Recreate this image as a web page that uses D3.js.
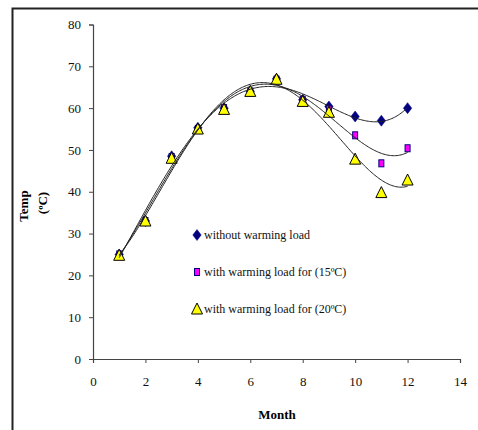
<!DOCTYPE html>
<html>
<head>
<meta charset="utf-8">
<script src="https://cdn.jsdelivr.net/npm/d3@7"></script>
<style>
  html, body { margin: 0; padding: 0; background: #fff; }
  svg { display: block; }
</style>
</head>
<body>
<svg id="chart" width="478" height="430"></svg>
<script>
// Monthly temperature readings (°C)
const months = [1, 2, 3, 4, 5, 6, 7, 8, 9, 10, 11, 12];
const withoutLoad = [25, 33, 48.5, 55.3, 60, 64, 67, 62, 60.4, 58, 57, 60];
const load15 = [25, 33, 48.3, 55, 60, 64, 66.8, 62, 59.8, 53.5, 46.8, 50.4];
const load20 = [24.8, 33, 48, 55, 59.7, 64, 66.9, 61.6, 59, 47.8, 39.8, 42.8];

const xTicks = [0, 2, 4, 6, 8, 10, 12, 14];
const yTicks = [0, 10, 20, 30, 40, 50, 60, 70, 80];

const seriesNames = [
  "without warming load",
  "with warming load for (15ºC)",
  "with warming load for (20ºC)"
];

const FONT = "Liberation Serif";
const svg = d3.select("#chart");

// outer frame
svg.append("rect")
  .attr("x", 12.5).attr("y", 8.5)
  .attr("width", 600).attr("height", 600)
  .attr("fill", "none").attr("stroke", "#222").attr("stroke-width", 2);

const x = d3.scaleLinear().domain([0, 14]).range([93, 460]);
const y = d3.scaleLinear().domain([0, 80]).range([359, 24.5]);

// axes
const xAxis = svg.append("g")
  .attr("transform", `translate(0,${y(0)})`)
  .call(d3.axisBottom(x).tickValues(xTicks).tickSize(4).tickPadding(14).tickFormat(d3.format("d")));
const yAxis = svg.append("g")
  .attr("transform", `translate(${x(0)},0)`)
  .call(d3.axisLeft(y).tickValues(yTicks).tickSize(4).tickPadding(8).tickFormat(d3.format("d")));

[xAxis, yAxis].forEach(g => {
  g.attr("font-family", null);
  g.select(".domain").attr("stroke", "#444").attr("stroke-width", 1.2);
  g.selectAll(".tick line").attr("stroke", "#444");
  g.selectAll(".tick text")
    .attr("fill", "#111")
    .style("font-family", FONT)
    .style("font-size", "13px");
});

// axis titles
svg.append("text")
  .attr("x", 277).attr("y", 419)
  .attr("text-anchor", "middle")
  .style("font-family", FONT).style("font-weight", "bold").style("font-size", "13px")
  .text("Month");

svg.append("text")
  .attr("transform", "translate(28,206) rotate(-90)")
  .attr("text-anchor", "middle")
  .style("font-family", FONT).style("font-weight", "bold").style("font-size", "13px")
  .text("Temp");
svg.append("text")
  .attr("transform", "translate(47,203) rotate(-90)")
  .attr("text-anchor", "middle")
  .style("font-family", FONT).style("font-weight", "bold").style("font-size", "13px")
  .text("(ºC)");

// least-squares polynomial trendline
function polyFit(xs, ys, order) {
  const n = order + 1;
  const A = Array.from({ length: n }, () => new Array(n + 1).fill(0));
  for (let r = 0; r < n; r++) {
    for (let c = 0; c < n; c++) {
      A[r][c] = d3.sum(xs, xv => Math.pow(xv, r + c));
    }
    A[r][n] = d3.sum(xs, (xv, i) => ys[i] * Math.pow(xv, r));
  }
  for (let i = 0; i < n; i++) {
    let p = i;
    for (let k = i + 1; k < n; k++) if (Math.abs(A[k][i]) > Math.abs(A[p][i])) p = k;
    [A[i], A[p]] = [A[p], A[i]];
    for (let k = i + 1; k < n; k++) {
      const f = A[k][i] / A[i][i];
      for (let c = i; c <= n; c++) A[k][c] -= f * A[i][c];
    }
  }
  const coef = new Array(n).fill(0);
  for (let i = n - 1; i >= 0; i--) {
    let s = A[i][n];
    for (let c = i + 1; c < n; c++) s -= A[i][c] * coef[c];
    coef[i] = s / A[i][i];
  }
  return xv => coef.reduce((acc, cf, k) => acc + cf * Math.pow(xv, k), 0);
}

const allSeries = [withoutLoad, load15, load20];
const line = d3.line().x(d => x(d[0])).y(d => y(d[1]));
const samples = d3.range(1, 12.0001, 0.05);

// markers
function drawDiamond(g, cx, cy) {
  g.append("path").attr("d", "M0,-5.5L4.2,0L0,5.5L-4.2,0Z")
    .attr("transform", `translate(${cx},${cy})`)
    .attr("fill", "#000080").attr("stroke", "#000080").attr("stroke-width", 0.5);
}
function drawSquare(g, cx, cy) {
  g.append("rect").attr("x", cx - 2.5).attr("y", cy - 3.5)
    .attr("width", 5).attr("height", 7)
    .attr("fill", "#FF00FF").attr("stroke", "#000080").attr("stroke-width", 1);
}
function drawTriangle(g, cx, cy) {
  g.append("path").attr("d", "M0,-6L5.5,5L-5.5,5Z")
    .attr("transform", `translate(${cx},${cy})`)
    .attr("fill", "#FFFF00").attr("stroke", "#000").attr("stroke-width", 1);
}
const drawers = [drawDiamond, drawSquare, drawTriangle];

const markG = svg.append("g");
allSeries.forEach((vals, si) => {
  months.forEach((m, i) => drawers[si](markG, x(m), y(vals[i])));
});

// trendlines
allSeries.forEach(vals => {
  const f = polyFit(months, vals, 4);
  svg.append("path")
    .datum(samples.map(t => [t, f(t)]))
    .attr("d", line)
    .attr("fill", "none").attr("stroke", "#222").attr("stroke-width", 1);
});

// legend
const legendY = [235, 272, 309];
const legend = svg.append("g");
seriesNames.forEach((name, i) => {
  drawers[i](legend, 197, legendY[i]);
  legend.append("text")
    .attr("x", 204).attr("y", legendY[i] + 4)
    .style("font-family", FONT).style("font-size", "12px").attr("fill", "#111")
    .text(name);
});
</script>
</body>
</html>
